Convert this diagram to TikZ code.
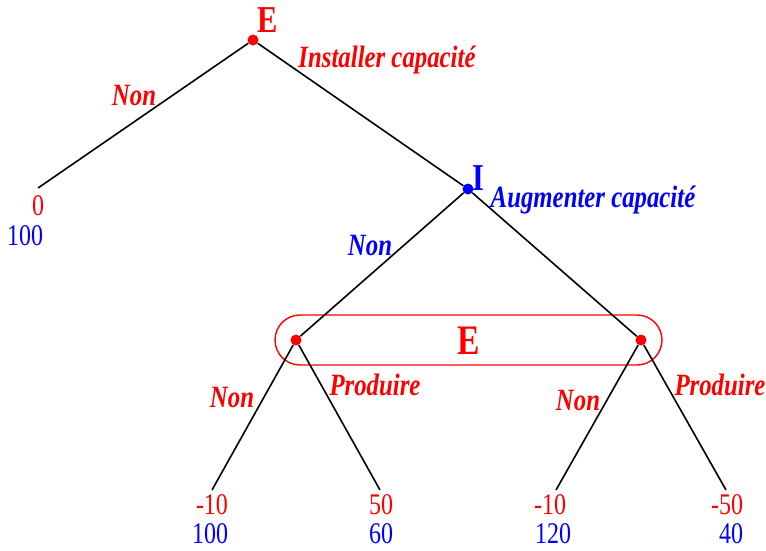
\documentclass[tikz,border=0pt]{standalone}
\usepackage{fontspec}
\setmainfont[FakeStretch=0.8]{Liberation Serif}
\begin{document}
\begin{tikzpicture}[
  x=1pt, y=-1pt,
  font=\fontsize{30}{34}\selectfont,
  branch/.style={black, line width=1.6pt},
  dot/.style={circle, fill=#1, inner sep=0pt, minimum size=11pt},
  move/.style={text=#1, font=\fontsize{31}{35}\selectfont\bfseries\itshape, inner sep=0pt},
  player/.style={text=#1, font=\fontsize{38}{42}\selectfont\bfseries, inner sep=0pt},
  payoff/.style={text=#1, inner sep=0pt}
]
\useasboundingbox (0,0) rectangle (766,550);

% nodes of the tree
\node[dot=red] (root) at (253,40) {};
\node[dot=blue] (inc) at (468,189) {};
\node[dot=red] (el) at (296,340) {};
\node[dot=red] (er) at (641,340) {};

\coordinate (l0) at (38,188);
\coordinate (l1) at (212,490);
\coordinate (l2) at (380,490);
\coordinate (l3) at (556,490);
\coordinate (l4) at (726,490);

% information set
\draw[red, line width=1.4pt, rounded corners=25pt] (275,315) rectangle (662,365);

\draw[branch] (root) -- (l0);
\draw[branch] (root) -- (inc);
\draw[branch] (inc) -- (el);
\draw[branch] (inc) -- (er);
\draw[branch] (el) -- (l1);
\draw[branch] (el) -- (l2);
\draw[branch] (er) -- (l3);
\draw[branch] (er) -- (l4);

% players
\node[player=red] (pe) at (268,20) {E};
\node[player=blue] (pi) at (478,178) {I};
\node[player=red, font=\fontsize{42}{46}\selectfont\bfseries] (pset) at (469,341) {E};

% moves
\node[move=red] (m1) at (134,95) {Non};
\node[move=red] (m2) at (387,60) {Installer capacité};
\node[move=blue] (m3) at (370,245) {Non};
\node[move=blue] (m4) at (593,200) {Augmenter capacité};
\node[move=red] (m5) at (232,397) {Non};
\node[move=red] (m6) at (375,385) {Produire};
\node[move=red] (m7) at (578,400) {Non};
\node[move=red] (m8) at (720,385) {Produire};

% payoffs
\node[payoff=red] (p0e) at (38,206) {0};
\node[payoff=blue] (p0i) at (25,236) {100};
\node[payoff=red] (p1e) at (212,505) {-10};
\node[payoff=blue] (p1i) at (210,534) {100};
\node[payoff=red] (p2e) at (381,505) {50};
\node[payoff=blue] (p2i) at (381,534) {60};
\node[payoff=red] (p3e) at (550,505) {-10};
\node[payoff=blue] (p3i) at (553,534) {120};
\node[payoff=red] (p4e) at (727,505) {-50};
\node[payoff=blue] (p4i) at (731,534) {40};
\end{tikzpicture}
\end{document}
